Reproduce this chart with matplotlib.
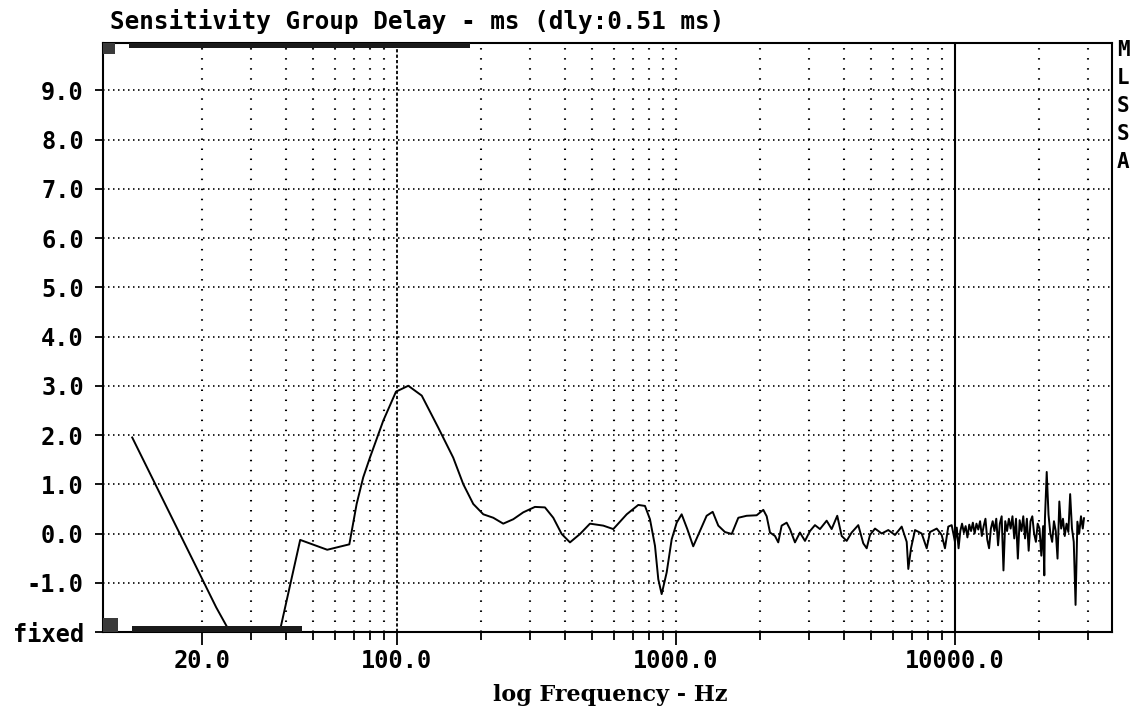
import matplotlib
matplotlib.use("Agg")
import matplotlib.pyplot as plt
from matplotlib.patches import Rectangle
from matplotlib.ticker import FixedLocator, NullFormatter
import matplotlib.transforms as mtransforms

# group delay curve (Hz, ms)
freq_hz = [11.25, 22.5, 33.75, 45.0, 56.25, 67.5, 71.7, 75.7, 80.0, 89.3,
           99.2, 109.8, 122.7, 140.6, 159.1, 172.9, 187.7, 203.9, 221.4, 240.4,
           261.2, 283.6, 312.3, 339.2, 363.3, 389.4, 417.0, 452.9, 491.8, 548.9,
           596.2, 666.0, 732.6, 774.3, 806.9, 841.0, 864.3, 888.7, 926.2, 965.2,
           1006, 1048, 1098, 1153, 1219, 1288, 1354, 1418, 1498, 1584,
           1673, 1792, 1946, 2056, 2114, 2173, 2264, 2326, 2392, 2493,
           2562, 2670, 2782, 2900, 3022, 3149, 3282, 3468, 3614, 3785,
           3926, 4091, 4263, 4502, 4692, 4826, 4959, 5168, 5462, 5767,
           6095, 6442, 6714, 6803, 6956, 7190, 7598, 7919, 8137, 8601,
           8963, 9207, 9462, 9731,
           10000, 10150, 10300, 10450, 10600, 10760, 10920, 11080, 11250,
           11420, 11590, 11760, 11940, 12120, 12300, 12480, 12670, 12860,
           13050, 13250, 13450, 13650, 13850, 14060, 14270, 14480, 14700,
           14920, 15140, 15370, 15600, 15830, 16070, 16310, 16550, 16800,
           17050, 17310, 17570, 17830, 18100, 18370, 18650, 18930, 19210,
           19500, 19790, 20090, 20390, 20700, 20900, 21010, 21320, 21640,
           21970, 22300, 22630, 22970, 23310, 23660, 24020, 24380, 24740,
           25110, 25490, 25870, 26260, 26650, 27050, 27460, 27870, 28290,
           28710, 29000]
delay_ms = [1.95, -1.5, -3.3, -0.13, -0.33, -0.22, 0.6, 1.14, 1.54, 2.29,
            2.88, 3.0, 2.8, 2.15, 1.54, 1.0, 0.6, 0.39, 0.32, 0.2,
            0.29, 0.43, 0.54, 0.53, 0.32, -0.01, -0.18, -0.01, 0.2, 0.16,
            0.09, 0.39, 0.58, 0.56, 0.29, -0.25, -0.93, -1.23, -0.79, -0.12,
            0.22, 0.39, 0.09, -0.26, 0.05, 0.36, 0.44, 0.16, 0.03, -0.01,
            0.32, 0.36, 0.37, 0.48, 0.35, 0.02, -0.05, -0.18, 0.16, 0.22,
            0.09, -0.18, 0.02, -0.15, 0.05, 0.17, 0.09, 0.26, 0.09, 0.36,
            -0.05, -0.15, 0.02, 0.17, -0.2, -0.3, -0.03, 0.1, 0.0, 0.07,
            -0.03, 0.14, -0.17, -0.72, -0.3, 0.07, 0.0, -0.3, 0.03, 0.1,
            -0.03, -0.3, 0.14, 0.17,
            -0.17, 0.12, -0.3, 0.05, 0.2, 0.02, 0.15, -0.08, 0.18,
            0.05, 0.22, 0.0, 0.2, 0.08, 0.25, -0.05, 0.15, 0.3,
            -0.12, -0.3, 0.1, 0.25, 0.05, 0.3, -0.24, 0.2, 0.35,
            -0.75, 0.25, 0.05, 0.3, 0.1, 0.35, -0.1, 0.3, -0.51,
            0.27, 0.05, 0.35, -0.1, 0.3, -0.35, 0.25, 0.35, 0.0,
            -0.17, 0.2, 0.1, -0.45, 0.15, -0.85, 0.3, 1.25, 0.38,
            0.0, -0.17, 0.25, 0.05, -0.51, 0.65, 0.1, 0.3, -0.05,
            0.2, 0.03, 0.8, 0.1, -0.17, -1.45, 0.24, 0.0, 0.35,
            0.1, 0.31]

x_major = [20, 100, 1000, 10000]
x_major_labels = ["20.0", "100.0", "1000.0", "10000.0"]
x_minor = [30, 40, 50, 60, 70, 80, 90,
           200, 300, 400, 500, 600, 700, 800, 900,
           2000, 3000, 4000, 5000, 6000, 7000, 8000, 9000,
           20000, 30000]
y_ticks = [-2, -1, 0, 1, 2, 3, 4, 5, 6, 7, 8, 9]
y_labels = ["fixed", "-1.0", "0.0", "1.0", "2.0", "3.0", "4.0", "5.0",
            "6.0", "7.0", "8.0", "9.0"]
dotted_x = [20, 30, 40, 50, 60, 70, 80, 90,
            200, 300, 400, 500, 600, 700, 800, 900, 1000,
            2000, 3000, 4000, 5000, 6000, 7000, 8000, 9000,
            20000, 30000]
dashed_x = [100]
solid_x = [10000]

# cursor/range markers of the analyser screen (Hz spans)
top_bar = (11.0, 183.0)
top_square = (8.84, 9.75)
bottom_bar = (11.2, 45.6)
bottom_square = (8.84, 10.0)

title = "Sensitivity Group Delay - ms (dly:0.51 ms)"
xlabel = "log Frequency - Hz"
side_letters = ["M", "L", "S", "S", "A"]

mono = "DejaVu Sans Mono"

fig = plt.figure(figsize=(11.37, 7.13), dpi=100)
ax = fig.add_axes([103 / 1137, 1 - 632 / 713, 1009 / 1137, 589 / 713])
ax.set_xscale("log")
ax.set_xlim(8.84, 36540)
ax.set_ylim(-2.0, 9.96)

for yv in range(-1, 10):
    ax.axhline(yv, color="black", lw=1.2, ls=(0, (0.9, 2.1)), zorder=1)
for xv in dotted_x:
    ax.axvline(xv, color="black", lw=1.5, ls=(0, (0.72, 4.1)), zorder=1)
for xv in dashed_x:
    ax.axvline(xv, color="black", lw=1.3, ls=(0, (1.8, 1.2)), zorder=1)
for xv in solid_x:
    ax.axvline(xv, color="black", lw=1.5, zorder=1)

ax.plot(freq_hz, delay_ms, color="black", lw=1.4, zorder=3)

trans = mtransforms.blended_transform_factory(ax.transData, ax.transAxes)
for (x0, x1), y0, h, c in [(top_bar, 1 - 0.0085, 0.0085, "#1a1a1a"),
                           (top_square, 1 - 0.0187, 0.0187, "#3a3a3a"),
                           (bottom_bar, 0.0, 0.0102, "#1a1a1a"),
                           (bottom_square, 0.0, 0.0238, "#3a3a3a")]:
    ax.add_patch(Rectangle((x0, y0), x1 - x0, h, transform=trans,
                           facecolor=c, edgecolor="none", zorder=4,
                           clip_on=False))

ax.xaxis.set_major_locator(FixedLocator(x_major))
ax.xaxis.set_minor_locator(FixedLocator(x_minor))
ax.xaxis.set_minor_formatter(NullFormatter())
ax.set_xticklabels(x_major_labels, fontfamily=mono, fontweight="bold",
                   fontsize=17)
ax.set_yticks(y_ticks)
ax.set_yticklabels(y_labels, fontfamily=mono, fontweight="bold", fontsize=17)
ax.tick_params(axis="x", which="major", direction="out", length=9.4,
               width=1.3, pad=2.5)
ax.tick_params(axis="x", which="minor", direction="out", length=5.8,
               width=1.3)
ax.tick_params(axis="y", direction="out", length=5.8, width=1.3, pad=8)

for s in ax.spines.values():
    s.set_linewidth(1.5)

fig.text(610 / 1137, 1 - 695 / 713, xlabel, fontfamily="DejaVu Serif",
         fontweight="bold", fontsize=16, ha="center", va="center")
fig.text(110 / 1137, 1 - 22 / 713, title, fontfamily=mono, fontweight="bold",
         fontsize=17.5, ha="left", va="center")
for i, ch in enumerate(side_letters):
    fig.text(1123 / 1137, 1 - (50 + 28 * i) / 713, ch, fontfamily=mono,
             fontweight="bold", fontsize=15, ha="center", va="center")

fig.savefig("out.png", dpi=100, facecolor="white")
